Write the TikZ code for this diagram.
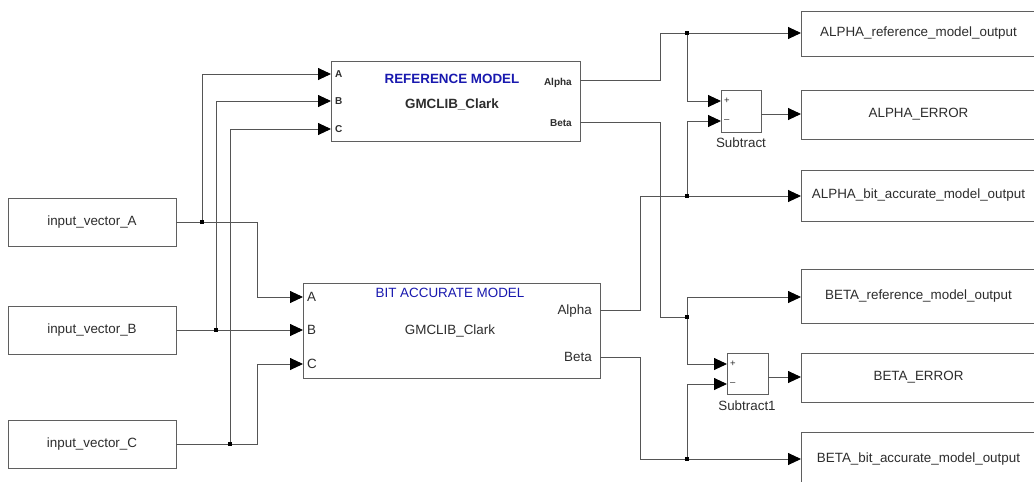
\documentclass[tikz,border=0pt]{standalone}
\usepackage{fontspec}
\setmainfont{Liberation Sans}
\usetikzlibrary{arrows.meta}
\definecolor{wire}{RGB}{85,85,85}
\definecolor{edge}{RGB}{95,95,95}
\definecolor{mblue}{RGB}{25,25,175}
\definecolor{tgray}{RGB}{45,45,45}
\tikzset{
  blk/.style={draw=edge, line width=0.9pt, fill=white, inner sep=0pt, font=\fontsize{13.4}{15}\selectfont, text=tgray},
  wl/.style={draw=wire, line width=0.9pt},
  ar/.style={wl, -{Triangle[length=13pt,width=12pt,black]}},
  dot/.style={fill=black, inner sep=0pt, minimum size=3.5pt, draw=none},
  txt/.style={inner sep=0pt, font=\fontsize{13.4}{15}\selectfont, text=tgray},
  btxt/.style={inner sep=0pt, font=\fontsize{10}{12}\selectfont\bfseries, text=tgray},
  stxt/.style={inner sep=0pt, font=\fontsize{9.5}{11}\selectfont, text=tgray}
}
\begin{document}
\begin{tikzpicture}[x=1pt,y=-1pt]
\useasboundingbox (0,0) rectangle (1034,482);
\clip (0,0) rectangle (1034,482);

% input blocks
\node[blk, minimum width=168pt, minimum height=48pt] (inA) at (92,222) {input\_vector\_A};
\node[blk, minimum width=168pt, minimum height=48pt] (inB) at (92,330) {input\_vector\_B};
\node[blk, minimum width=168pt, minimum height=48pt] (inC) at (92,444) {input\_vector\_C};

% model blocks
\node[blk, minimum width=249pt, minimum height=80pt] (ref) at (455.5,101) {};
\node[blk, minimum width=297pt, minimum height=95pt] (bit) at (451.5,330.5) {};

% subtract blocks
\node[blk, minimum width=40pt, minimum height=42pt] (sub1) at (741,111) {};
\node[blk, minimum width=41pt, minimum height=41pt] (sub2) at (747.5,373.5) {};

% output blocks
\node[blk, minimum width=235pt, minimum height=45pt] (oAr) at (918.5,33.5) {ALPHA\_reference\_model\_output};
\node[blk, minimum width=235pt, minimum height=49pt] (oAe) at (918.5,114.5) {ALPHA\_ERROR};
\node[blk, minimum width=235pt, minimum height=51pt] (oAb) at (918.5,195.5) {ALPHA\_bit\_accurate\_model\_output};
\node[blk, minimum width=235pt, minimum height=54pt] (oBr) at (918.5,296) {BETA\_reference\_model\_output};
\node[blk, minimum width=235pt, minimum height=49pt] (oBe) at (918.5,377.5) {BETA\_ERROR};
\node[blk, minimum width=235pt, minimum height=54pt] (oBb) at (918.5,459) {BETA\_bit\_accurate\_model\_output};

% labels in reference model
\node[txt, font=\fontsize{13.4}{15}\selectfont\bfseries, text=mblue] (refT) at (452,79) {REFERENCE MODEL};
\node[txt, font=\fontsize{13.4}{15}\selectfont\bfseries] (refN) at (452,104) {GMCLIB\_Clark};
\node[btxt, anchor=west] (refLA) at (335,74) {A};
\node[btxt, anchor=west] (refLB) at (335,101) {B};
\node[btxt, anchor=west] (refLC) at (335,129) {C};
\node[btxt, anchor=east] (refLal) at (572,83) {Alpha};
\node[btxt, anchor=east] (refLbe) at (572,123) {Beta};

% labels in bit accurate model
\node[txt, text=mblue] (bitT) at (450,293) {BIT ACCURATE MODEL};
\node[txt] (bitN) at (450,331) {GMCLIB\_Clark};
\node[txt, anchor=west] (bitLA) at (307,297) {A};
\node[txt, anchor=west] (bitLB) at (307,330) {B};
\node[txt, anchor=west] (bitLC) at (307,364) {C};
\node[txt, anchor=east] (bitLal) at (592,311) {Alpha};
\node[txt, anchor=east] (bitLbe) at (592,357) {Beta};

% subtract signs and names
\node[stxt, anchor=west] (s1p) at (724,101) {+};
\node[stxt, anchor=west] (s1m) at (724,121) {\textendash};
\node[stxt, anchor=west] (s2p) at (730,364) {+};
\node[stxt, anchor=west] (s2m) at (730,384) {\textendash};
\node[txt] (s1n) at (741,143) {Subtract};
\node[txt] (s2n) at (747,406) {Subtract1};

% port coordinates
\coordinate (refA) at (331,74);
\coordinate (refB) at (331,101);
\coordinate (refC) at (331,129);
\coordinate (refAl) at (580,80);
\coordinate (refBe) at (580,122);
\coordinate (bitA) at (303,297);
\coordinate (bitB) at (303,330);
\coordinate (bitC) at (303,364);
\coordinate (bitAl) at (600,310);
\coordinate (bitBe) at (600,357);
\coordinate (s1in1) at (721,101);
\coordinate (s1in2) at (721,121);
\coordinate (s1out) at (761,114);
\coordinate (s2in1) at (727,364);
\coordinate (s2in2) at (727,384);
\coordinate (s2out) at (768,377);
\coordinate (oArIn) at (801,33);
\coordinate (oAeIn) at (801,114);
\coordinate (oAbIn) at (801,196);
\coordinate (oBrIn) at (801,297);
\coordinate (oBeIn) at (801,377);
\coordinate (oBbIn) at (801,459);

% junctions
\coordinate (jA) at (202,222);
\coordinate (jB) at (216,330);
\coordinate (jC) at (230,444);
\coordinate (jAa) at (687,33);
\coordinate (jAb) at (687,196);
\coordinate (jBa) at (687,317);
\coordinate (jBb) at (687,459);

% input wiring
\draw[wl] (inA.east) -- (jA);
\draw[ar] (jA) -- (257,222) -- (257,297) -- (bitA);
\draw[ar] (jA) -- (202,74) -- (refA);
\draw[wl] (inB.east) -- (jB);
\draw[ar] (jB) -- (bitB);
\draw[ar] (jB) -- (216,101) -- (refB);
\draw[wl] (inC.east) -- (jC);
\draw[ar] (jC) -- (257,444) -- (257,364) -- (bitC);
\draw[ar] (jC) -- (230,129) -- (refC);

% alpha wiring
\draw[wl] (refAl) -- (660,80) -- (660,33) -- (jAa);
\draw[ar] (jAa) -- (oArIn);
\draw[ar] (jAa) -- (687,101) -- (s1in1);
\draw[wl] (bitAl) -- (640,310) -- (640,196) -- (jAb);
\draw[ar] (jAb) -- (oAbIn);
\draw[ar] (jAb) -- (687,121) -- (s1in2);
\draw[ar] (s1out) -- (oAeIn);

% beta wiring
\draw[wl] (refBe) -- (660,122) -- (660,317) -- (jBa);
\draw[ar] (jBa) -- (687,297) -- (oBrIn);
\draw[ar] (jBa) -- (687,364) -- (s2in1);
\draw[wl] (bitBe) -- (640,357) -- (640,459) -- (jBb);
\draw[ar] (jBb) -- (oBbIn);
\draw[ar] (jBb) -- (687,384) -- (s2in2);
\draw[ar] (s2out) -- (oBeIn);

% junction dots
\foreach \j in {jA,jB,jC,jAa,jAb,jBa,jBb} \node[dot] at (\j) {};
\end{tikzpicture}
\end{document}
